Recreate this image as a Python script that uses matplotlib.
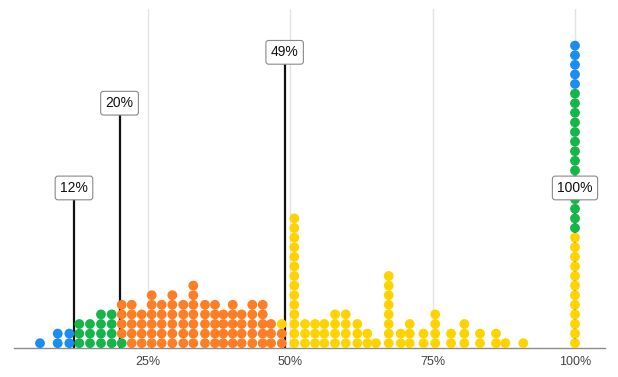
import matplotlib
matplotlib.use("Agg")
import matplotlib.pyplot as plt

plt.rcParams['font.family'] = ['Liberation Sans', 'DejaVu Sans']

# Column positions (percent) and stacked dots bottom->top (b=blue, g=green, o=orange, y=yellow)
col_pct = [6.03, 9.14, 11.18, 12.93, 14.81, 16.74, 18.62, 20.38, 22.14, 23.89,
           25.65, 27.41, 29.27, 31.20, 32.96, 35.01, 36.77, 38.23, 39.88, 41.46,
           43.32, 45.15, 46.61, 48.49, 50.70, 52.58, 54.34, 55.97, 57.85, 59.73,
           61.77, 63.52, 65.05, 67.28, 69.39, 70.97, 73.39, 75.45, 78.23, 80.56,
           83.32, 86.13, 87.76, 90.92, 100.0]
col_stacks = ["b", "bb", "bb", "ggg", "ggg", "gggg", "gggg", "goooo", "ooooo", "oooo",
              "oooooo", "ooooo", "oooooo", "ooooo", "ooooooo", "ooooo", "ooooo", "oooo", "ooooo", "oooo",
              "ooooo", "ooooo", "ooo", "ooy", "yyyyyyyyyyyyyy", "yyy", "yyy", "yyy", "yyyy", "yyyy",
              "yyy", "yy", "y", "yyyyyyyy", "yy", "yyy", "yy", "yyyy", "yy", "yyy",
              "yy", "yy", "y", "y", "yyyyyyyyyyyy" + "ggggggggggggggg" + "bbbbb"]

palette = {"b": "#1b8cf0", "g": "#14b64a", "o": "#fd7e24", "y": "#ffd300"}

# Marker labels (percent) and their box heights (in dot rows)
marker_pct = [12, 20, 49, 100]
marker_text = ["12%", "20%", "49%", "100%"]
marker_row = [16.67, 25.5, 30.8, 16.67]

tick_pct = [25, 50, 75, 100]
tick_labels = ["25%", "50%", "75%", "100%"]

W, H, DPI = 618, 377, 100
fig = plt.figure(figsize=(W / DPI, H / DPI), dpi=DPI)
px_per_pct = (575 - 148) / 75.0
zero_px = 148 - 25 * px_per_pct
left_px, right_px = 14, 605
base_px, top_px = 348, 9
row_px = 9.6
ax = fig.add_axes([left_px / W, (H - base_px) / H, (right_px - left_px) / W, (base_px - top_px) / H])
ax.set_xlim((left_px - zero_px) / px_per_pct, (right_px - zero_px) / px_per_pct)
ax.set_ylim(0, (base_px - top_px) / row_px)

for sp in ["top", "right", "left"]:
    ax.spines[sp].set_visible(False)
ax.spines["bottom"].set_color("#8c8c8c")
ax.spines["bottom"].set_linewidth(1.0)
ax.set_yticks([])
ax.set_xticks(tick_pct)
ax.set_xticklabels(tick_labels, fontsize=9, color="#444444")
ax.tick_params(axis="x", length=0, pad=6)
for t in tick_pct:
    ax.axvline(t, color="#e3e3e3", lw=1.0, zorder=0)

# marker lines and boxes
for p, txt, r in zip(marker_pct, marker_text, marker_row):
    ax.plot([p, p], [0, r], color="#111111", lw=1.6, zorder=1, solid_capstyle="butt")
    ax.text(p, r, txt, ha="center", va="center", fontsize=10, color="#111111", zorder=5,
            bbox=dict(boxstyle="round,pad=0.35,rounding_size=0.2", fc="white", ec="#8a8a8a", lw=0.8))

# dots
d_pt = 9.8 * 72 / DPI
xs, ys, cs = [], [], []
for x, st in zip(col_pct, col_stacks):
    for k, c in enumerate(st):
        xs.append(x)
        ys.append(0.5 + k)
        cs.append(palette[c])
ax.scatter(xs, ys, s=d_pt ** 2, c=cs, linewidths=0, zorder=3, clip_on=False)

fig.savefig("out.png", dpi=DPI)
